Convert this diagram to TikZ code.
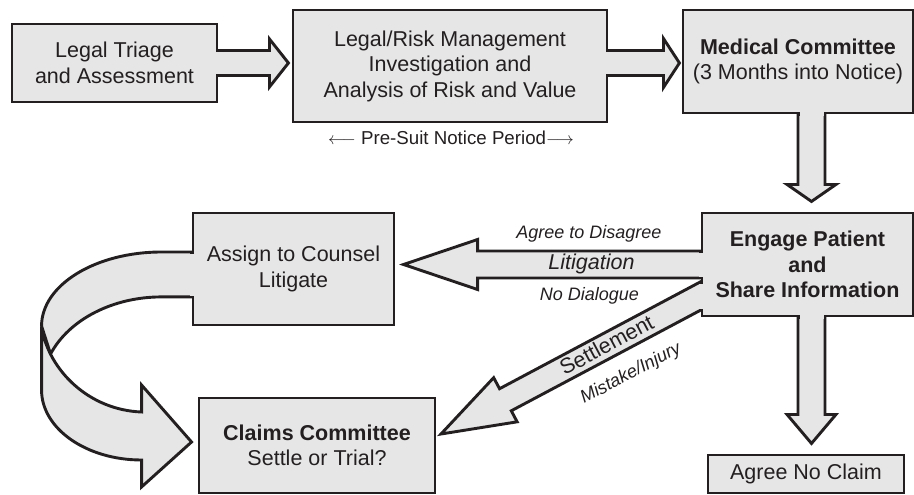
\documentclass[tikz,border=0pt]{standalone}
\usepackage{fontspec}
\setmainfont{Liberation Sans}
\usetikzlibrary{calc}
\definecolor{ink}{HTML}{231F20}
\definecolor{boxgray}{HTML}{E6E6E6}
\newcommand{\BoxFont}{\fontsize{21.5}{25.5}\selectfont}
\newcommand{\LblFont}{\fontsize{18}{21}\selectfont}
\tikzset{
  box/.style={draw=ink, fill=boxgray, line width=2.9pt, align=center,
    inner sep=0pt, text=ink, font=\BoxFont},
  blk/.style={draw=ink, fill=boxgray, line width=2.9pt},
  lbl/.style={inner sep=0pt, text=ink, font=\LblFont\itshape, anchor=base},
}

\begin{document}
\begin{tikzpicture}[x=1pt, y=-1pt]

  \useasboundingbox (0,0) rectangle (914,495);

  %% boxes
  \node[box, minimum width=205pt, minimum height=78pt] (triage) at (114.5,63)
  {Legal Triage\\and Assessment};
  \node[box, minimum width=314pt, minimum height=112pt] (invest) at (450,66)
  {Legal/Risk Management\\Investigation and\\Analysis of Risk and Value};
  \node[box, minimum width=230pt, minimum height=103pt] (medcom) at (798,61.5)
  {\textbf{Medical Committee}\\(3 Months into Notice)};
  \node[box, minimum width=211pt, minimum height=103pt] (engage) at (807.5,264.5)
  {\textbf{Engage Patient}\\\textbf{and}\\\textbf{Share Information}};
  \node[box, minimum width=196pt, minimum height=38pt] (noclaim) at (806,474)
  {Agree No Claim};
  \node[box, minimum width=201pt, minimum height=112pt] (assign) at (293.5,269)
  {Assign to Counsel\\Litigate};
  \node[box, minimum width=236pt, minimum height=95pt] (claims) at (317,445.5)
  {\textbf{Claims Committee}\\Settle or Trial?};

  \coordinate (dn1) at ($(engage |- medcom.south)+(4,0)$);
  \coordinate (dn2) at ($(engage.south)+(4,0)$);
  \coordinate (s0) at ($(engage.west)+(0,31.5)$);
  \coordinate (lb) at ($(assign.west)+(-150,58)$);

  %% triage -> invest
  \draw[blk] ($(triage.east)+(0,-12.5)$) -- ++(51,0) -- ++(0,-11.5)
  -- ++(19,24) -- ++(-19,24) -- ++(0,-11.5) -- ++(-51,0) -- cycle;
  %% invest -> medcom
  \draw[blk] ($(invest.east |- triage.east)+(0,-12.5)$) -- ++(55,0) -- ++(0,-12)
  -- ++(16,24.5) -- ++(-16,24.5) -- ++(0,-12) -- ++(-55,0) -- cycle;
  %% medcom -> engage
  \draw[blk] ($(dn1)+(-13.5,0)$) -- ++(0,70) -- ++(-11,0)
  -- ++(24.5,17) -- ++(24.5,-17) -- ++(-11,0) -- ++(0,-70) -- cycle;
  %% engage -> noclaim
  \draw[blk] ($(dn2)+(-13.5,0)$) -- ++(0,97) -- ++(-11,0)
  -- ++(24.5,29) -- ++(24.5,-29) -- ++(-11,0) -- ++(0,-97) -- cycle;
  %% engage -> assign
  \draw[blk] ($(engage.west)+(0,-13.5)$) -- ++(-223,0) -- ++(0,-11.5)
  -- ++(-74,25) -- ++(74,25) -- ++(0,-11.5) -- ++(223,0) -- cycle;
  %% engage -> claims
  \draw[blk] ($(s0)+(0,-14.2)$) -- ($(s0)+(152:221)+(242:12.5)$)
  -- ($(s0)+(152:221)+(242:25)$) -- ($(s0)+(152:294)$)
  -- ($(s0)+(152:221)+(62:25)$) -- ($(s0)+(152:221)+(62:12.5)$)
  -- ($(s0)+(0,14.2)$) -- cycle;

  %% assign -> claims, back band first
  \draw[blk] ($(assign.west)+(0,-17)$) -- ++(-30,0)
  arc[start angle=270, end angle=180, x radius=120, y radius=74]
  -- ++(9,28)
  arc[start angle=202.3, end angle=270, x radius=120, y radius=92]
  -- ++(30,0) -- cycle;
  \draw[blk] (lb) -- ++(0,63)
  arc[start angle=180, end angle=90, x radius=100, y radius=70]
  -- ++(0,27) -- ($(claims.west)+(-6,-3.5)$) -- ++(-50,-57) -- ++(0,27)
  .. controls +(-53,-2) and +(7,43) .. (lb) -- cycle;

  %% open the boxes where the arrows leave
  \fill[boxgray] ($(triage.east)+(-2,-11)$) rectangle ($(triage.east)+(2,11)$);
  \fill[boxgray] ($(invest.east |- triage.east)+(-2,-11)$)
  rectangle ($(invest.east |- triage.east)+(2,11)$);
  \fill[boxgray] ($(dn1)+(-12,-2)$) rectangle ($(dn1)+(12,2)$);
  \fill[boxgray] ($(dn2)+(-12,-2)$) rectangle ($(dn2)+(12,2)$);
  \fill[boxgray] ($(engage.west)+(-2,-12)$) rectangle ($(engage.west)+(2,12)$);
  \fill[boxgray] ($(s0)+(-2,-12.5)$) rectangle ($(s0)+(2,12.5)$);
  \fill[boxgray] ($(assign.west)+(-2,-15.5)$) rectangle ($(assign.west)+(2,26.5)$);

  %% labels
  \node[lbl, font=\fontsize{18.7}{22}\selectfont] (presuit) at (451,145)
  {$\longleftarrow$ Pre-Suit Notice Period$\longrightarrow$};
  \node[lbl] (agree) at (589,238.5) {Agree to Disagree};
  \node[lbl, font=\BoxFont\itshape] (litig) at (591.5,269.3) {Litigation};
  \node[lbl] (nodia) at (589.5,300) {No Dialogue};
  \node[lbl, anchor=center, font=\BoxFont, rotate=28] (settle)
  at ($(s0)+(152:106)+(242:1)$) {Settlement};
  \node[lbl, anchor=center, rotate=28] (mistake)
  at ($(s0)+(152:98)+(62:36)$) {Mistake/Injury};

\end{tikzpicture}
\end{document}
